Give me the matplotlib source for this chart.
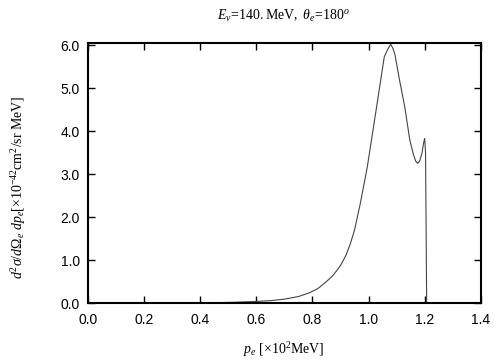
import numpy as np
import matplotlib
matplotlib.use("Agg")
import matplotlib.pyplot as plt

plt.rcParams.update({
    "font.family": ["Liberation Sans", "DejaVu Sans"],
    "mathtext.fontset": "custom",
    "mathtext.rm": "Liberation Serif",
    "mathtext.it": "Liberation Serif:italic",
    "mathtext.bf": "Liberation Serif:bold",
})

# electron momentum [x10^2 MeV] and cross section [x10^-42 cm^2/sr MeV]
p_e = [0.40, 0.45, 0.50, 0.55, 0.60, 0.65, 0.70, 0.75, 0.79, 0.82,
       0.85, 0.87, 0.89, 0.904, 0.92, 0.935, 0.95, 0.97, 0.995, 1.02,
       1.056, 1.068, 1.079, 1.087, 1.094, 1.109, 1.129, 1.147, 1.16, 1.168,
       1.175, 1.182, 1.19, 1.196, 1.200, 1.203, 1.207, 1.25, 1.40]
xsec = [0.0, 0.006, 0.014, 0.024, 0.036, 0.055, 0.09, 0.15, 0.24, 0.34,
        0.50, 0.62, 0.78, 0.92, 1.12, 1.38, 1.70, 2.30, 3.15, 4.20,
        5.73, 5.90, 6.02, 5.92, 5.78, 5.23, 4.56, 3.79, 3.45, 3.30,
        3.25, 3.30, 3.48, 3.72, 3.83, 3.50, 0.0, 0.0, 0.0]

ticks_x = np.arange(0, 1.41, 0.2)
ticks_y = np.arange(0, 6.01, 1.0)

fig = plt.figure(figsize=(5.04, 3.6), dpi=100)
ax = fig.add_axes([0.1746, 0.1583, 0.7794, 0.7223])
ax.plot(p_e, xsec, color="#444444", lw=0.8)

ax.set_xlim(0.0, 1.4)
ax.set_ylim(0.0, 6.05)
ax.set_xticks(ticks_x)
ax.set_yticks(ticks_y)
ax.set_xticklabels([f"{v:.1f}" for v in ticks_x])
ax.set_yticklabels([f"{v:.1f}" for v in ticks_y])
ax.tick_params(direction="in", length=5, width=1, top=True, right=True,
               labelsize=10)
ax.tick_params(axis="x", pad=7)
ax.tick_params(axis="y", pad=6)
for s in ax.spines.values():
    s.set_linewidth(1.5)

fig.text(0.563, 0.955, r"$E_{\nu}\!=\!140.\mathrm{MeV},\ \theta_e\!=\!180^o$",
         ha="center", va="center", fontsize=10)
fig.text(0.563, 0.028, r"$p_e\ [\times10^2\mathrm{MeV}]$",
         ha="center", va="center", fontsize=10)
fig.text(0.036, 0.48,
         r"$d^2\sigma/d\Omega_e\ dp_e[\times10^{-42}\mathrm{cm}^2/\mathrm{sr\ MeV}]$",
         ha="center", va="center", rotation=90, fontsize=10)

fig.savefig("out.png", dpi=100)
